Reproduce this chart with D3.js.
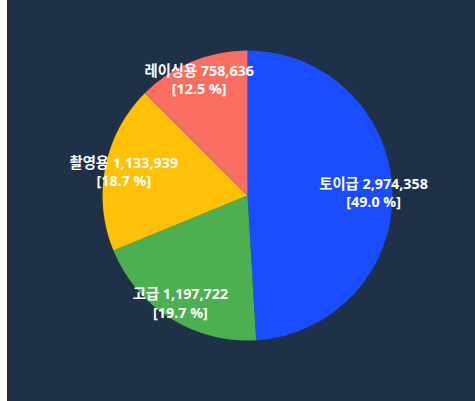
<!DOCTYPE html>
<html><head><meta charset="utf-8">
<script src="https://cdn.jsdelivr.net/npm/d3@7"></script>
<style>
html,body{margin:0;padding:0;background:#fff;}
svg{display:block;}
</style></head>
<body>
<svg id="chart" width="475" height="401"></svg>
<script>
const categories = ["토이급", "고급", "촬영용", "레이싱용"];
const values = [2974358, 1197722, 1133939, 758636];
const colors = ["#1a4dff", "#4caf50", "#ffc107", "#fa6d61"];

const W = 475, H = 401;
const svg = d3.select("#chart");
svg.append("rect").attr("x", 7).attr("y", 0).attr("width", W - 7).attr("height", H).attr("fill", "#1e3148");

const cx = 247.5, cy = 195.5, R = 145;
const total = d3.sum(values);
const data = categories.map((c, i) => ({name: c, value: values[i], color: colors[i]}));
const pie = d3.pie().value(d => d.value).sort(null);
const arcs = pie(data);
const arc = d3.arc().innerRadius(0).outerRadius(R);
const labelArc = d3.arc().innerRadius(R * 0.87).outerRadius(R * 0.87);

const g = svg.append("g").attr("transform", `translate(${cx},${cy})`);
g.selectAll("path").data(arcs).enter().append("path")
  .attr("d", arc).attr("fill", d => d.data.color);

const fmt = d3.format(",");
const lab = g.selectAll("text.lab").data(arcs).enter().append("text")
  .attr("class", "lab")
  .attr("transform", d => `translate(${labelArc.centroid(d)})`)
  .attr("text-anchor", "middle")
  .attr("fill", "#ffffff")
  .style("font-family", "'Open Sans', 'Noto Sans CJK KR', sans-serif")
  .style("font-weight", "bold")
  .style("font-size", "14.3px");
lab.append("tspan").attr("x", 0).attr("dy", "-0.2em")
  .text(d => `${d.data.name} ${fmt(d.data.value)}`);
lab.append("tspan").attr("x", 0).attr("dy", "1.28em")
  .text(d => `[${(d.data.value / total * 100).toFixed(1)} %]`);
</script>
</body></html>
